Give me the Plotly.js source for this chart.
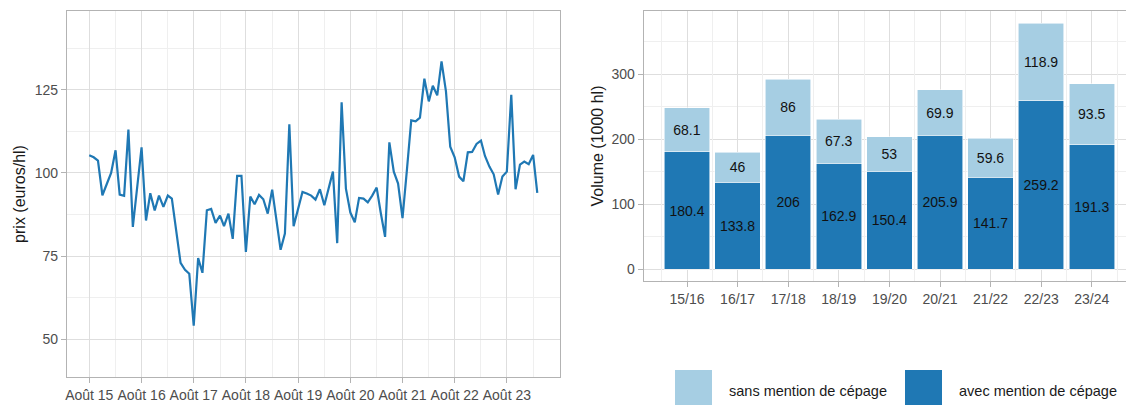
<!DOCTYPE html>
<html><head><meta charset="utf-8">
<script src="https://cdn.plot.ly/plotly-3.0.1.min.js"></script>
<style>html,body{margin:0;padding:0;background:#fff}#chart{width:1126px;height:405px}</style>
</head><body><div id="chart"></div>
<script>
// ---- data: monthly price (euros/hl)
const months = [
  "2015-08","2015-09","2015-10","2015-11","2015-12",
  "2016-01","2016-02","2016-03","2016-04","2016-05","2016-06","2016-07","2016-08","2016-09","2016-10","2016-11","2016-12",
  "2017-01","2017-02","2017-03","2017-04","2017-05","2017-06","2017-07","2017-08","2017-09","2017-10","2017-11","2017-12",
  "2018-01","2018-02","2018-03","2018-04","2018-05","2018-06","2018-07","2018-08","2018-09","2018-10","2018-11","2018-12",
  "2019-01","2019-02","2019-03","2019-04","2019-05","2019-06","2019-07","2019-08","2019-09","2019-10","2019-11","2019-12",
  "2020-01","2020-02","2020-03","2020-04","2020-05","2020-06","2020-07","2020-08","2020-09","2020-10","2020-11","2020-12",
  "2021-01","2021-02","2021-03","2021-04","2021-05","2021-06","2021-07","2021-08","2021-09","2021-10","2021-11","2021-12",
  "2022-01","2022-02","2022-03","2022-04","2022-05","2022-06","2022-07","2022-08","2022-09","2022-10","2022-11","2022-12",
  "2023-01","2023-02","2023-03","2023-04","2023-05","2023-06","2023-07","2023-08","2023-09","2023-10","2023-11","2023-12",
  "2024-01","2024-02","2024-03"
];
const prices = [
  105.3,104.7,103.7,93.3,96.6,
  100,106.8,93.5,93.1,113,83.8,95.7,107.7,85.7,93.9,88.7,93.2,
  89.8,93.2,92.3,82.7,73,70.9,69.7,54.1,74.4,70,88.8,89.2,
  85,87.2,84,87.8,80.2,99.1,99.1,76.3,92.9,90.6,93.4,92.1,
  87.8,95,85.9,76.9,81.8,114.6,84,89,94.3,93.8,93.2,92,
  95.1,90.3,95.4,100.4,78.9,121.2,95.3,88.1,85.2,92.5,92.3,91.2,
  93.2,95.6,88.2,80.8,109.2,100.4,96.8,86.4,101,115.8,115.5,116.6,
  128.3,121.5,126.2,123.3,133.5,124.5,107.9,104.7,98.9,97.5,106.2,106.3,
  108.7,109.7,105.1,101.9,99.6,93.5,98.9,100.4,123.5,95.1,102.5,103.4,
  102.6,105.4,94
];
const yearTickVals = ["2015-08-01","2016-08-01","2017-08-01","2018-08-01","2019-08-01","2020-08-01","2021-08-01","2022-08-01","2023-08-01"];
const yearTickText = ["Août 15","Août 16","Août 17","Août 18","Août 19","Août 20","Août 21","Août 22","Août 23"];

// ---- data: volumes (1000 hl) by campaign
const campaigns = ["15/16","16/17","17/18","18/19","19/20","20/21","21/22","22/23","23/24"];
const avecCepage = [180.4,133.8,206,162.9,150.4,205.9,141.7,259.2,191.3];
const sansCepage = [68.1,46,86,67.3,53,69.9,59.6,118.9,93.5];
const legendNames = ["sans mention de cépage","avec mention de cépage"];

const COL_DARK = "#1f78b4", COL_LIGHT = "#a6cee3";
const W = 1126, H = 405;
const fx = v => v / W, fy = v => 1 - v / H;
const FONT = "Liberation Sans, Arial, sans-serif";
const tickFont = {family: FONT, size: 14, color: "#4d4d4d"};
const titleFont = {family: FONT, size: 16, color: "#1a1a1a"};
const GRID = "#dedede", MINOR = "#efefef", BORDER = "#b3b3b3";

const febVals = [];
for (let y = 2016; y <= 2024; y++) febVals.push(y + "-02-01");

const traces = [
  {x: months, y: prices, type: "scatter", mode: "lines", xaxis: "x", yaxis: "y",
   line: {color: COL_DARK, width: 2.2}, showlegend: false, hoverinfo: "x+y"},
  {x: campaigns, y: avecCepage, type: "bar", xaxis: "x2", yaxis: "y2", name: legendNames[1],
   marker: {color: COL_DARK, line: {color: "rgba(255,255,255,0.7)", width: 0.8}},
   width: 0.9, text: avecCepage.map(String), textposition: "inside", insidetextanchor: "middle",
   textangle: 0, constraintext: "none", textfont: {family: FONT, size: 14, color: "#111"}, showlegend: false},
  {x: campaigns, y: sansCepage, type: "bar", xaxis: "x2", yaxis: "y2", name: legendNames[0],
   marker: {color: COL_LIGHT, line: {color: "rgba(255,255,255,0.7)", width: 0.8}},
   width: 0.9, text: sansCepage.map(String), textposition: "inside", insidetextanchor: "middle",
   textangle: 0, constraintext: "none", textfont: {family: FONT, size: 14, color: "#111"}, showlegend: false},
  {x: campaigns, y: campaigns.map(() => null), type: "scatter", mode: "lines", xaxis: "x3", yaxis: "y2",
   showlegend: false, hoverinfo: "skip"}
];

const layout = {
  width: W, height: H,
  margin: {l: 0, r: 0, t: 0, b: 0},
  paper_bgcolor: "#fff", plot_bgcolor: "#fff",
  barmode: "stack",
  showlegend: false,
  xaxis: {
    type: "date", domain: [fx(67.1), fx(560)], anchor: "y",
    range: ["2015-02-27", "2024-08-07"],
    tickmode: "array", tickvals: yearTickVals, ticktext: yearTickText,
    ticks: "outside", ticklen: 5, tickcolor: BORDER, tickfont: tickFont,
    showgrid: true, gridcolor: GRID, gridwidth: 1,
    minor: {tickmode: "array", tickvals: febVals, showgrid: true, gridcolor: MINOR, gridwidth: 1, ticks: ""},
    showline: true, mirror: true, linecolor: BORDER, linewidth: 1.3, zeroline: false
  },
  yaxis: {
    domain: [fy(377), fy(11)], anchor: "x",
    range: [38.7, 148.65],
    tickmode: "linear", tick0: 0, dtick: 25,
    ticks: "outside", ticklen: 5, tickcolor: BORDER, tickfont: tickFont,
    showgrid: true, gridcolor: GRID, gridwidth: 1,
    minor: {dtick: 12.5, showgrid: true, gridcolor: MINOR, gridwidth: 1, ticks: ""},
    showline: true, mirror: true, linecolor: BORDER, linewidth: 1.3, zeroline: false,
    title: {text: "prix (euros/hl)", font: titleFont, standoff: 5}
  },
  xaxis2: {
    type: "category", categoryorder: "array", categoryarray: campaigns,
    domain: [fx(644), 1], anchor: "y2",
    range: [-0.85, 8.676],
    ticks: "outside", ticklen: 5, tickcolor: BORDER, tickfont: tickFont,
    showgrid: true, gridcolor: GRID, gridwidth: 1,
    showline: true, mirror: true, linecolor: BORDER, linewidth: 1.3, zeroline: false
  },
  xaxis3: {
    type: "category", categoryorder: "array", categoryarray: campaigns,
    overlaying: "x2", anchor: "y2", range: [-0.85, 8.676],
    tickson: "boundaries", showticklabels: false, ticks: "",
    showgrid: true, gridcolor: MINOR, gridwidth: 1, showline: false, zeroline: false
  },
  yaxis2: {
    domain: [fy(281), fy(11)], anchor: "x2",
    range: [-18, 396.8],
    tickmode: "linear", tick0: 0, dtick: 100,
    ticks: "outside", ticklen: 5, tickcolor: BORDER, tickfont: tickFont,
    showgrid: true, gridcolor: GRID, gridwidth: 1,
    minor: {dtick: 50, showgrid: true, gridcolor: MINOR, gridwidth: 1, ticks: ""},
    showline: true, mirror: false, linecolor: BORDER, linewidth: 1.3, zeroline: false,
    title: {text: "Volume (1000 hl)", font: titleFont, standoff: 4}
  },
  shapes: [
    {type: "rect", xref: "paper", yref: "paper", x0: fx(675), x1: fx(712), y0: fy(407), y1: fy(370),
     fillcolor: COL_LIGHT, line: {width: 0}},
    {type: "rect", xref: "paper", yref: "paper", x0: fx(905), x1: fx(942), y0: fy(407), y1: fy(370),
     fillcolor: COL_DARK, line: {width: 0}}
  ],
  annotations: [
    {xref: "paper", yref: "paper", x: fx(727), y: fy(391), xanchor: "left", yanchor: "middle",
     text: legendNames[0], showarrow: false, font: {family: FONT, size: 14.5, color: "#1a1a1a"}},
    {xref: "paper", yref: "paper", x: fx(957), y: fy(391), xanchor: "left", yanchor: "middle",
     text: legendNames[1], showarrow: false, font: {family: FONT, size: 14.5, color: "#1a1a1a"}}
  ]
};

Plotly.newPlot("chart", traces, layout, {displayModeBar: false, staticPlot: true});
</script>
</body></html>
